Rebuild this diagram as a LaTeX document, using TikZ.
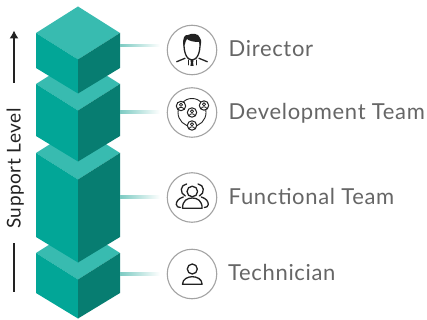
\documentclass[tikz,border=0pt]{standalone}
\usepackage{fontspec}
\usetikzlibrary{arrows.meta}
\setmainfont[LetterSpace=3]{Lato}
\definecolor{topc}{HTML}{38BBB0}
\definecolor{leftc}{HTML}{02A697}
\definecolor{rightc}{HTML}{077D71}
\definecolor{ringc}{HTML}{A3A3A3}
\definecolor{labc}{HTML}{666666}
\definecolor{inkc}{HTML}{222222}
\definecolor{linkc}{HTML}{7CCBC3}
\tikzset{
  x=1pt,y=-1pt,
  ring/.style={circle,draw=ringc,line width=1.1pt,fill=white,minimum size=49.5pt,inner sep=0pt},
  lab/.style={anchor=base west,text=labc,font=\fontsize{22}{24}\selectfont,inner sep=0pt},
  ico/.style={draw=inkc,line width=1.3pt,line cap=round,line join=round},
  link/.style={left color=linkc,right color=white,draw=none},
}
% args: top y of left edge, bottom y of left edge
\newcommand{\block}[2]{%
  \fill[topc] (36,#1) -- (78,#1-26.5) -- (120,#1) -- (78,#1+26.5) -- cycle;
  \fill[leftc] (36,#1) -- (78,#1+26.5) -- (78,#2+25.5) -- (36,#2) -- cycle;
  \fill[rightc] (120,#1) -- (78,#1+26.5) -- (78,#2+25.5) -- (120,#2) -- cycle;
}
\begin{document}
\begin{tikzpicture}
\useasboundingbox (0,0) rectangle (427,320);
\fill[white] (0,0) rectangle (427,320);
% blocks, lowest first
\block{253}{293}
\block{153}{237}
\block{84}{136}
\block{33}{68}
% connectors
\coordinate (a1) at (120,44.5); \coordinate (b1) at (160,47);
\coordinate (a2) at (120,110.7); \coordinate (b2) at (160,113.3);
\coordinate (a3) at (120,195.7); \coordinate (b3) at (160,198.3);
\coordinate (a4) at (120,272.7); \coordinate (b4) at (160,275.3);
\foreach \i in {1,2,3,4} {\path[link] (a\i) rectangle (b\i);}
% rings
\node[ring] (r1) at (192,50) {};
\node[ring] (r2) at (192,112.5) {};
\node[ring] (r3) at (192,197.5) {};
\node[ring] (r4) at (192,274) {};
% labels
\node[lab] (t1) at (228.5,56.7) {Director};
\node[lab] (t2) at (228.5,119.3) {Development Team};
\node[lab] (t3) at (228.5,204) {Functional Team};
\node[lab] (t4) at (228,280.7) {Technician};
% support level
\node[rotate=90,anchor=base,text=inkc,font=\fontsize{19}{21}\selectfont,inner sep=0pt] (sl) at (20.5,168.5) {Support Level};
\coordinate (up0) at (14,83); \coordinate (up1) at (14,30.5);
\draw[inkc,line width=1.2pt,-{Latex[length=8pt,width=9pt]}] (up0) -- (up1);
\coordinate (lo0) at (14,243); \coordinate (lo1) at (14,292);
\draw[inkc,line width=1.2pt] (lo0) -- (lo1);
% director icon
\begin{scope}[shift={(192,50)}]
  \draw[ico] (-8,-8) .. controls (-8.5,3) and (-5,10) .. (0,10) .. controls (5,10) and (8.5,3) .. (8,-8);
  \fill[inkc] (-8.5,-4) .. controls (-10,-12) and (-7,-16) .. (-4,-15) .. controls (-1,-17) and (7,-17) .. (8,-12) .. controls (10,-9) and (9,-6) .. (8.5,-4) -- (7,-8) .. controls (2,-8) and (-3,-9) .. (-5,-11) .. controls (-6,-9) and (-7,-8) .. (-7,-6) -- cycle;
  \draw[ico] (-15.3,11.7) -- (-7,8.3) (15.3,11.7) -- (7,8.3);
  \draw[ico,line width=.9pt] (-4,10) -- (-4,15) (4,10) -- (4,15);
  \fill[inkc] (-1.3,10) rectangle (1.3,12) (-1,12) -- (1,12) -- (1.6,16) -- (-1.6,16) -- cycle;
\end{scope}
% development team icon
\begin{scope}[shift={(192,112.5)}]
  \draw[ico,line width=.9pt] (0,0) circle (14);
  \foreach \px/\py in {-11/-6.5,12/-7,0/0,0/13} {
    \draw[ico,line width=1pt,fill=white] (\px,\py) circle (4.7);
    \draw[ico,line width=.8pt] (\px,\py-1.2) circle (1.6);
    \draw[ico,line width=.8pt] (\px-2.8,\py+3) .. controls (\px-2.2,\py+.8) and (\px+2.2,\py+.8) .. (\px+2.8,\py+3);
  }
\end{scope}
% functional team icon
\begin{scope}[shift={(192.3,197.5)}]
  \draw[ico] (-5.7,-13.5) .. controls (-12,-13) and (-13,-4) .. (-7,-1.5);
  \draw[ico] (5.7,-13.5) .. controls (12,-13) and (13,-4) .. (7,-1.5);
  \draw[ico] (-9,-.5) .. controls (-14,1) and (-16,4) .. (-16,7) .. controls (-16,9) and (-14,10) .. (-12,10);
  \draw[ico] (9,-.5) .. controls (14,1) and (16,4) .. (16,7) .. controls (16,9) and (14,10) .. (12,10);
  \draw[ico] (0,-6) circle (5.3);
  \draw[ico] (-9.8,10.7) .. controls (-9.8,3) and (-5,0.5) .. (0,0.5) .. controls (5,0.5) and (9.8,3) .. (9.8,10.7) -- cycle;
\end{scope}
% technician icon
\begin{scope}[shift={(192.3,274)}]
  \draw[ico] (0,-5) circle (5);
  \draw[ico] (-9.8,10.3) .. controls (-9.8,5) and (-4.5,2.7) .. (0,2.7) .. controls (4.5,2.7) and (9.8,5) .. (9.8,10.3) -- cycle;
\end{scope}
\end{tikzpicture}
\end{document}
